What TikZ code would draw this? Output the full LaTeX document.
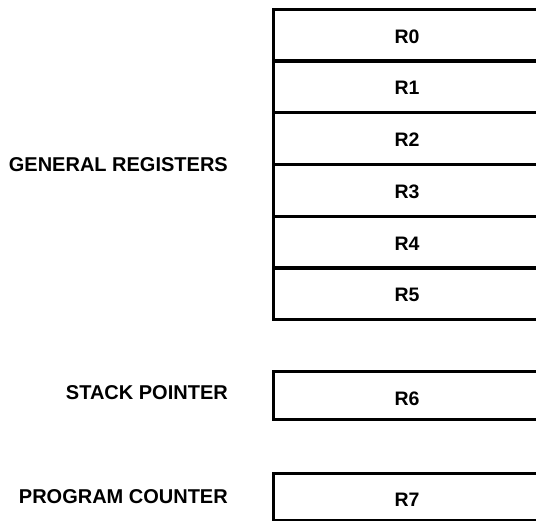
\documentclass[tikz,border=0pt]{standalone}
\usepackage{fontspec}
\setmainfont{Liberation Sans}
\begin{document}
\begin{tikzpicture}[x=1pt,y=-1pt,
  reg/.style={draw,line width=3.4pt,rectangle,anchor=north west,minimum width=275pt,inner sep=0pt,text depth=0pt},
  regtext/.style={font=\bfseries\fontsize{19.5}{19.5}\selectfont,anchor=center},
  lbl/.style={font=\bfseries\fontsize{20}{20}\selectfont,anchor=east,inner sep=0pt}]
\useasboundingbox (0,0) rectangle (536,520);
\clip (0,0) rectangle (536,520);
\foreach \i/\t in {0/7.5,1/59.25,2/111,3/162.75,4/214.5,5/266.25}{
  \node[reg,minimum height=51.75pt] (r\i) at (272,\t) {};
  \node[regtext] (t\i) at (407,\t+29) {R\i};
}
\node[reg,minimum height=48pt] (r6) at (272,370) {};
\node[regtext] (t6) at (407,399) {R6};
\node[reg,minimum height=47pt] (r7) at (272,472) {};
\node[regtext] (t7) at (407,500) {R7};
\node[lbl] (gen) at (228,165) {GENERAL REGISTERS};
\node[lbl] (sp) at (228,393) {STACK POINTER};
\node[lbl] (pc) at (228,497) {PROGRAM COUNTER};
\end{tikzpicture}
\end{document}
